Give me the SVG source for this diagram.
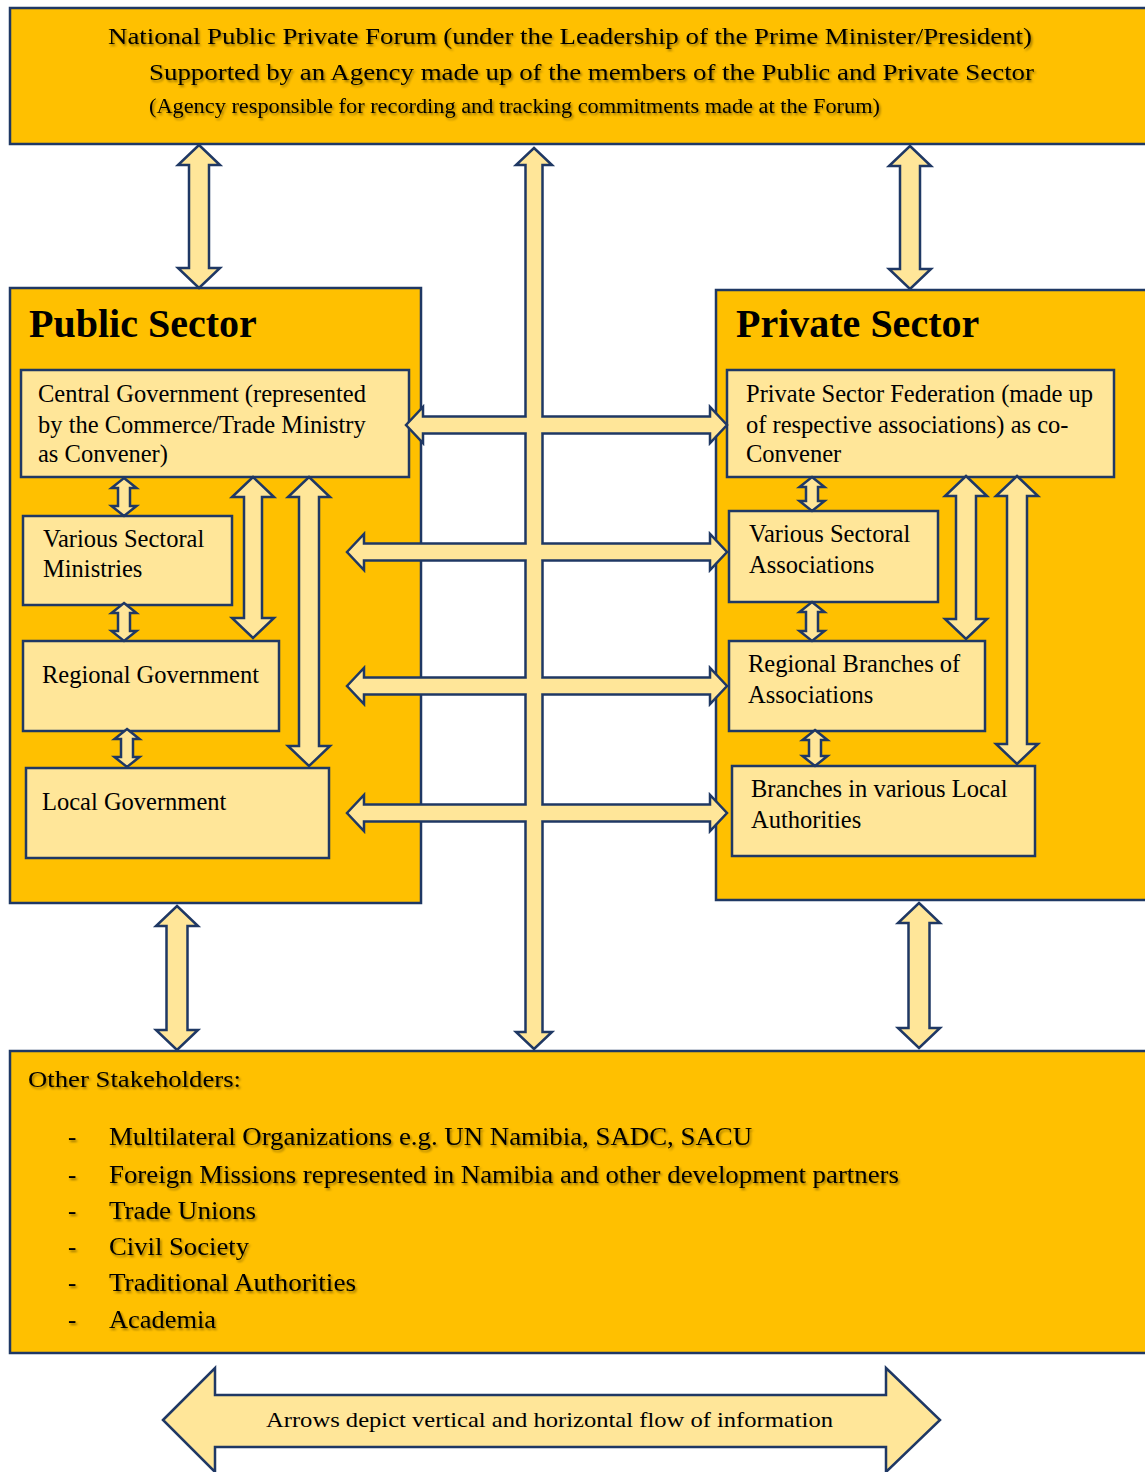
<svg xmlns="http://www.w3.org/2000/svg" width="1145" height="1472" viewBox="0 0 1145 1472">
<defs>
<style>
.outer{fill:#FFC000;stroke:#1F3864;stroke-width:2.5}
.inner{fill:#FFE699;stroke:#1F3864;stroke-width:2.5}
.arr{fill:#FFE699;stroke:#1F3864;stroke-width:2.5;stroke-linejoin:miter}
.patch{fill:#FFE699;stroke:none}
.t{font-family:"Liberation Serif","Times New Roman",serif;fill:#000}
.box{font-size:24.5px}
.head{font-size:40px;font-weight:bold}
.sh{filter:url(#shadow)}
</style>
<filter id="shadow" x="-5%" y="-30%" width="110%" height="160%">
<feDropShadow dx="1.5" dy="2" stdDeviation="1" flood-color="#000" flood-opacity="0.4"/>
</filter>
</defs>
<rect width="1145" height="1472" fill="#fff"/>

<g id="forum">
<rect class="outer" x="10" y="8" width="1145" height="136"/>
<text class="t sh" x="108" y="44" font-size="24" textLength="924" lengthAdjust="spacingAndGlyphs">National Public Private Forum (under the Leadership of the Prime Minister/President)</text>
<text class="t sh" x="149" y="80" font-size="24" textLength="885" lengthAdjust="spacingAndGlyphs">Supported by an Agency made up of the members of the Public and Private Sector</text>
<text class="t sh" x="149" y="113" font-size="20" textLength="731" lengthAdjust="spacingAndGlyphs">(Agency responsible for recording and tracking commitments made at the Forum)</text>
</g>

<g id="public-sector">
<rect class="outer" x="10" y="288" width="411" height="615"/>
<text class="t head" x="29" y="337">Public Sector</text>
</g>
<g id="central-government">
<rect class="inner" x="21" y="370" width="388" height="107"/>
<text class="t box" x="38" y="402">Central Government (represented</text>
<text class="t box" x="38" y="433">by the Commerce/Trade Ministry</text>
<text class="t box" x="38" y="462">as Convener)</text>
</g>
<g id="sectoral-ministries">
<rect class="inner" x="23" y="516" width="209" height="89"/>
<text class="t box" x="43" y="547">Various Sectoral</text>
<text class="t box" x="43" y="577">Ministries</text>
</g>
<g id="regional-government">
<rect class="inner" x="23" y="641" width="256" height="90"/>
<text class="t box" x="42" y="683">Regional Government</text>
</g>
<g id="local-government">
<rect class="inner" x="26" y="768" width="303" height="90"/>
<text class="t box" x="42" y="810">Local Government</text>
</g>

<g id="private-sector">
<rect class="outer" x="716" y="290" width="440" height="610"/>
<text class="t head" x="736" y="337">Private Sector</text>
</g>
<g id="private-sector-federation">
<rect class="inner" x="727" y="370" width="387" height="107"/>
<text class="t box" x="746" y="402">Private Sector Federation (made up</text>
<text class="t box" x="746" y="433">of respective associations) as co-</text>
<text class="t box" x="746" y="462">Convener</text>
</g>
<g id="sectoral-associations">
<rect class="inner" x="729" y="511" width="209" height="91"/>
<text class="t box" x="749" y="542">Various Sectoral</text>
<text class="t box" x="749" y="573">Associations</text>
</g>
<g id="regional-branches">
<rect class="inner" x="729" y="641" width="256" height="90"/>
<text class="t box" x="748" y="672">Regional Branches of</text>
<text class="t box" x="748" y="703">Associations</text>
</g>
<g id="local-branches">
<rect class="inner" x="732" y="766" width="303" height="90"/>
<text class="t box" x="751" y="797">Branches in various Local</text>
<text class="t box" x="751" y="828">Authorities</text>
</g>

<g id="other-stakeholders">
<rect class="outer" x="10" y="1051" width="1145" height="302"/>
<text class="t sh" x="28" y="1087" font-size="24" textLength="213" lengthAdjust="spacingAndGlyphs">Other Stakeholders:</text>
<g class="t sh" font-size="25">
<text x="68" y="1145">-</text>
<text x="109" y="1145" textLength="643" lengthAdjust="spacingAndGlyphs">Multilateral Organizations e.g. UN Namibia, SADC, SACU</text>
<text x="68" y="1183">-</text>
<text x="109" y="1183" textLength="790" lengthAdjust="spacingAndGlyphs">Foreign Missions represented in Namibia and other development partners</text>
<text x="68" y="1219">-</text>
<text x="109" y="1219" textLength="147" lengthAdjust="spacingAndGlyphs">Trade Unions</text>
<text x="68" y="1255">-</text>
<text x="109" y="1255" textLength="140" lengthAdjust="spacingAndGlyphs">Civil Society</text>
<text x="68" y="1291">-</text>
<text x="109" y="1291" textLength="247" lengthAdjust="spacingAndGlyphs">Traditional Authorities</text>
<text x="68" y="1328">-</text>
<text x="109" y="1328" textLength="107" lengthAdjust="spacingAndGlyphs">Academia</text>
</g>
</g>

<g id="connectors">
<path class="arr" d="M199,145 L220,165 L209,165 L209,268 L220,268 L199,288 L178,268 L189,268 L189,165 L178,165 Z"/>
<path class="arr" d="M910,146 L931,166 L920,166 L920,269 L931,269 L910,289 L889,269 L900,269 L900,166 L889,166 Z"/>
<path class="arr" d="M534,148 L552,165 L542.5,165 L542.5,1032 L552,1032 L534,1049 L516,1032 L525.5,1032 L525.5,165 L516,165 Z"/>
<path class="arr" d="M177,906 L198,926 L187.5,926 L187.5,1030 L198,1030 L177,1050 L156,1030 L166.5,1030 L166.5,926 L156,926 Z"/>
<path class="arr" d="M919,903 L940,923 L929.5,923 L929.5,1028 L940,1028 L919,1048 L898,1028 L908.5,1028 L908.5,923 L898,923 Z"/>
<path class="arr" d="M253,477 L274,497 L262,497 L262,618 L274,618 L253,638 L232,618 L244,618 L244,497 L232,497 Z"/>
<path class="arr" d="M309,477 L330,497 L319,497 L319,746 L330,746 L309,766 L288,746 L299,746 L299,497 L288,497 Z"/>
<path class="arr" d="M966,476 L987,496 L976,496 L976,619 L987,619 L966,639 L945,619 L956,619 L956,496 L945,496 Z"/>
<path class="arr" d="M1017,476 L1038,496 L1027,496 L1027,744 L1038,744 L1017,764 L996,744 L1007,744 L1007,496 L996,496 Z"/>
<path class="arr" d="M124,478 L136.5,488 L130,488 L130,506 L136.5,506 L124,516 L111.5,506 L118,506 L118,488 L111.5,488 Z"/>
<path class="arr" d="M124,603 L136.5,613 L130,613 L130,631 L136.5,631 L124,641 L111.5,631 L118,631 L118,613 L111.5,613 Z"/>
<path class="arr" d="M127,729 L139.5,739 L133,739 L133,757 L139.5,757 L127,767 L114.5,757 L121,757 L121,739 L114.5,739 Z"/>
<path class="arr" d="M812,477 L824.5,487 L818,487 L818,501 L824.5,501 L812,511 L799.5,501 L806,501 L806,487 L799.5,487 Z"/>
<path class="arr" d="M812,602 L824.5,612 L818,612 L818,631 L824.5,631 L812,641 L799.5,631 L806,631 L806,612 L799.5,612 Z"/>
<path class="arr" d="M815,730 L827.5,740 L821,740 L821,756 L827.5,756 L815,766 L802.5,756 L809,756 L809,740 L802.5,740 Z"/>
<path class="arr" d="M406,425 L423,407 L423,416.5 L710,416.5 L710,407 L727,425 L710,443 L710,433.5 L423,433.5 L423,443 Z"/>
<path class="arr" d="M347,552 L364,534 L364,543.5 L710,543.5 L710,534 L727,552 L710,570 L710,560.5 L364,560.5 L364,570 Z"/>
<path class="arr" d="M347,686 L364,668 L364,677.5 L710,677.5 L710,668 L727,686 L710,704 L710,694.5 L364,694.5 L364,704 Z"/>
<path class="arr" d="M347,813 L364,795 L364,804.5 L710,804.5 L710,795 L727,813 L710,831 L710,821.5 L364,821.5 L364,831 Z"/>
<rect class="patch" x="526.8" y="415" width="14.4" height="20"/>
<rect class="patch" x="526.8" y="542" width="14.4" height="20"/>
<rect class="patch" x="526.8" y="676" width="14.4" height="20"/>
<rect class="patch" x="526.8" y="803" width="14.4" height="20"/>
</g>

<g id="legend">
<path class="arr" d="M163,1420 L215,1368 L215,1395 L886,1395 L886,1368 L940,1420 L886,1472 L886,1447 L215,1447 L215,1472 Z"/>
<text class="t" x="266" y="1427" font-size="22" textLength="567" lengthAdjust="spacingAndGlyphs">Arrows depict vertical and horizontal flow of information</text>
</g>
</svg>
